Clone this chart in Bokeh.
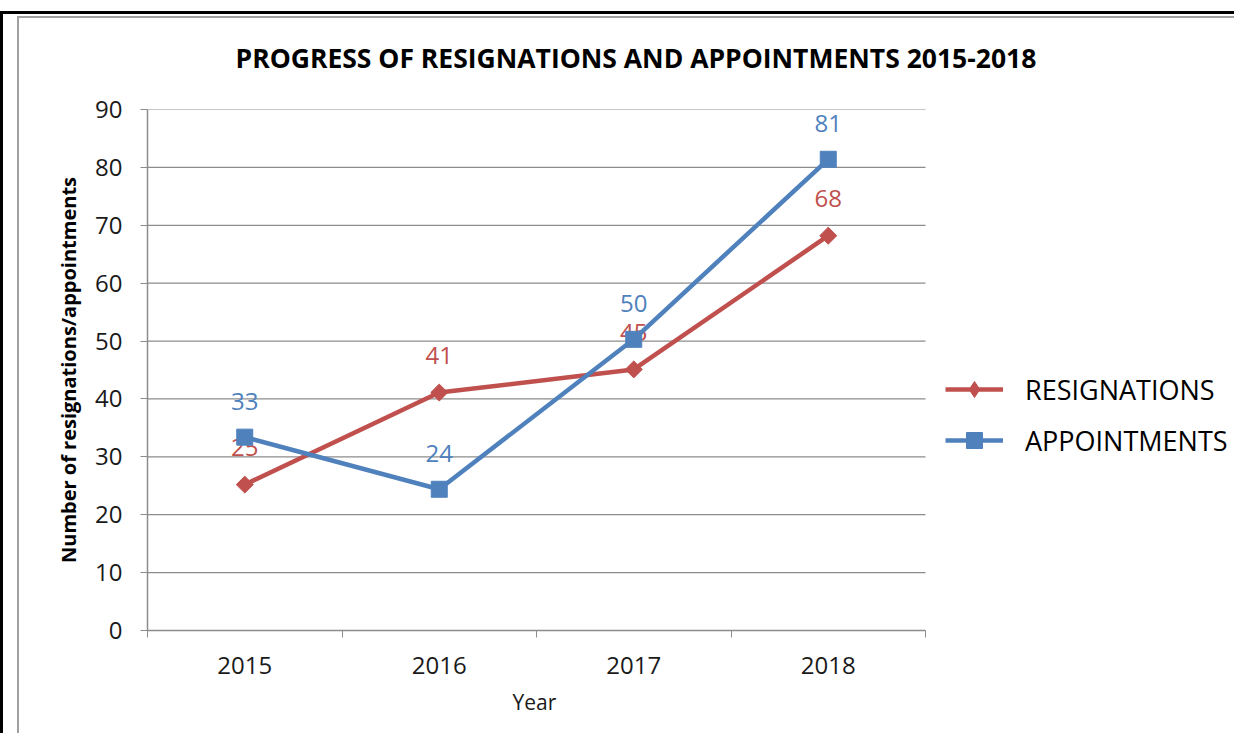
from bokeh.plotting import figure
from bokeh.models import (Range1d, FixedTicker, Legend, LegendItem,
                          ColumnDataSource, Title)
from bokeh.core.properties import value
from bokeh.embed import file_html
from bokeh.resources import INLINE
import math

# ---------------- data ----------------
years = ["2015", "2016", "2017", "2018"]
resignations = [25.2, 41.1, 45.1, 68.2]
appointments = [33.4, 24.4, 50.3, 81.4]
y_ticks = [0, 10, 20, 30, 40, 50, 60, 70, 80, 90]
title_text = "PROGRESS OF RESIGNATIONS AND APPOINTMENTS 2015-2018"
x_title = "Year"
y_title = "Number of resignations/appointments"
series_names = ["RESIGNATIONS", "APPOINTMENTS"]

RED = "#C0504D"
BLUE = "#4F81BD"
GRID = "#8C8C8C"
FONT = "Open Sans"

W, H = 1234, 733
FL, FT = 147, 109          # frame left / top
AXIS_W = 778               # pixel width of the category axis
FB = H - 630
FW = W - FL                # frame runs to the right edge (legend lives inside it)
n = len(years)

p = figure(width=W, height=H, output_backend="svg", toolbar_location=None,
           x_range=Range1d(0, n * FW / AXIS_W), y_range=Range1d(0, 90),
           min_border_left=FL, min_border_right=0,
           min_border_top=FT, min_border_bottom=FB)
p.background_fill_color = "white"
p.border_fill_color = None
p.outline_line_color = None
p.styles = {
    "background": ("linear-gradient(#000,#000) 0px 11px / 100% 3px no-repeat, "
                   "linear-gradient(#000,#000) 0px 11px / 3px 100% no-repeat, "
                   "linear-gradient(#A0A0A0,#A0A0A0) 17px 16px / 100% 2px no-repeat, "
                   "linear-gradient(#A0A0A0,#A0A0A0) 17px 16px / 2px 100% no-repeat, "
                   "#ffffff"),
}

# ---------------- title ----------------
p.title.text = title_text
p.title.align = "left"
p.title.offset = 88
p.title.standoff = 68
p.title.text_font = FONT
p.title.text_font_size = "26.5px"
p.title.text_font_style = "bold"
p.title.text_color = "#000000"

# ---------------- axes ----------------
xs = [i + 0.5 for i in range(n)]
p.xaxis.bounds = (0, n)
p.xaxis.ticker = FixedTicker(ticks=xs, minor_ticks=list(range(n + 1)))
p.xaxis.major_label_overrides = {x: y for x, y in zip(xs, years)}
p.xaxis.major_tick_out = 0
p.xaxis.major_tick_in = 0
p.xaxis.minor_tick_out = 7
p.xaxis.minor_tick_in = 0
p.xaxis.minor_tick_line_color = GRID
p.xaxis.axis_line_color = GRID
p.xaxis.axis_line_width = 1.5
p.xaxis.major_label_text_font = FONT
p.xaxis.major_label_text_font_size = "24px"
p.xaxis.major_label_text_color = "#1a1a1a"
p.xaxis.major_label_standoff = 19

# x-axis title centred under the category area (not the whole frame)
p.add_layout(Title(text=x_title, align="left", offset=365, standoff=18,
                   text_font=FONT, text_font_size="21px",
                   text_font_style="normal", text_color="#1a1a1a"), "below")

p.yaxis.ticker = FixedTicker(ticks=y_ticks)
p.yaxis.major_tick_out = 7
p.yaxis.major_tick_in = 0
p.yaxis.minor_tick_out = 0
p.yaxis.minor_tick_in = 0
p.yaxis.major_tick_line_color = GRID
p.yaxis.axis_line_color = GRID
p.yaxis.axis_line_width = 1.5
p.yaxis.major_label_text_font = FONT
p.yaxis.major_label_text_font_size = "24px"
p.yaxis.major_label_text_color = "#1a1a1a"
p.yaxis.major_label_standoff = 18
p.yaxis.axis_label = y_title
p.yaxis.axis_label_text_font = FONT
p.yaxis.axis_label_text_font_size = "20px"
p.yaxis.axis_label_text_font_style = "bold"
p.yaxis.axis_label_text_color = "#000000"
p.yaxis.axis_label_standoff = 10

# horizontal gridlines only across the category area
p.xgrid.grid_line_color = None
p.ygrid.grid_line_color = None
p.segment(x0=0, x1=n, y0=y_ticks[1:], y1=y_ticks[1:], line_color=GRID,
          line_width=1.2)

# ---------------- series ----------------
src_r = ColumnDataSource(dict(x=xs, y=resignations,
                              lab=[str(round(v)) for v in resignations]))
src_a = ColumnDataSource(dict(x=xs, y=appointments,
                              lab=[str(round(v)) for v in appointments]))

lr = p.line("x", "y", source=src_r, line_color=RED, line_width=4.5)
p.scatter("x", "y", source=src_r, marker="square", angle=math.pi / 4,
          size=12, fill_color=RED, line_color=RED)
leg_r = p.scatter("x", "y", source=src_r, marker="diamond", size=16,
                  fill_color=RED, line_color=RED, visible=False)
p.text("x", "y", text="lab", source=src_r, text_color=RED,
       text_font=value(FONT), text_font_size="24px", text_align="center",
       text_baseline="middle", y_offset=-37)

la = p.line("x", "y", source=src_a, line_color=BLUE, line_width=4.5)
ma = p.scatter("x", "y", source=src_a, marker="square", size=16,
               fill_color=BLUE, line_color=BLUE)
p.text("x", "y", text="lab", source=src_a, text_color=BLUE,
       text_font=value(FONT), text_font_size="24px", text_align="center",
       text_baseline="middle", y_offset=-36)

# ---------------- legend ----------------
legend = Legend(items=[LegendItem(label=series_names[0], renderers=[lr, leg_r]),
                       LegendItem(label=series_names[1], renderers=[la, ma])],
                location=(798, 170), orientation="vertical",
                glyph_width=58, glyph_height=40, label_height=40,
                label_standoff=22, spacing=11, padding=0, margin=0,
                border_line_color=None, background_fill_alpha=0,
                inactive_fill_alpha=0,
                label_text_font=FONT, label_text_font_size="27px",
                label_text_color="#000000")
p.add_layout(legend, "center")

open("out.html", "w").write(file_html(p, INLINE))
